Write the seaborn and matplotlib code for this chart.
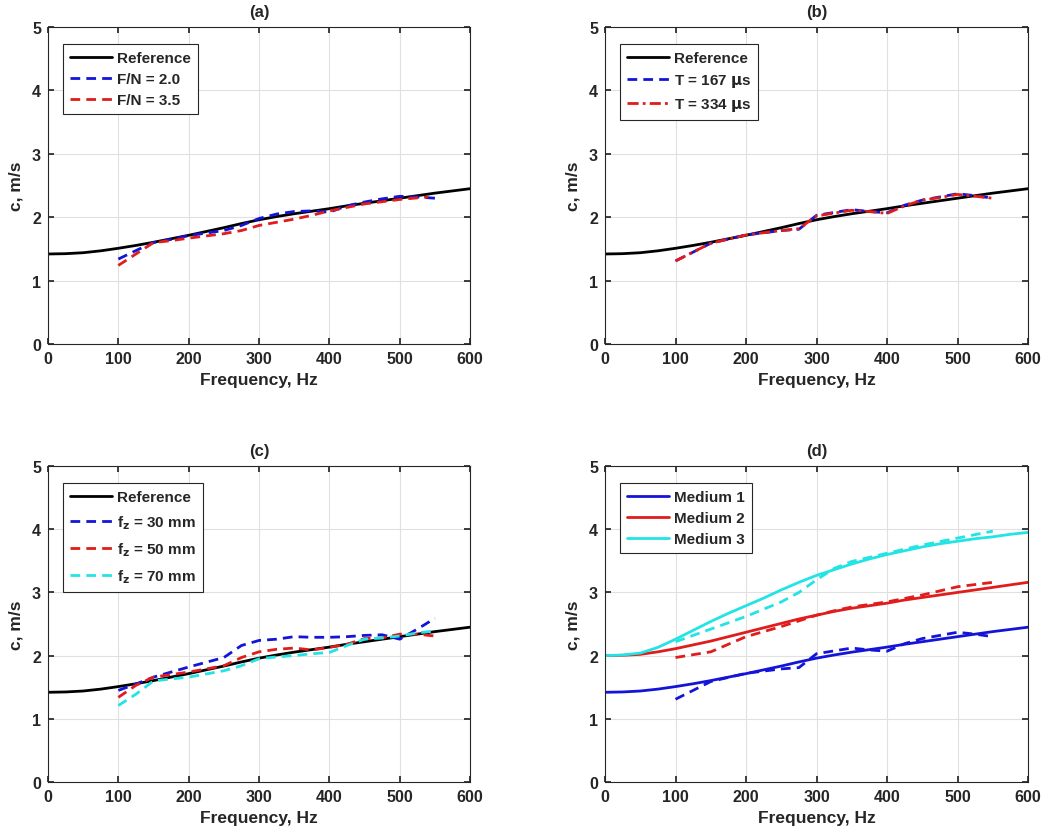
import numpy as np
import pandas as pd
import matplotlib
matplotlib.use("Agg")
import matplotlib.pyplot as plt
import seaborn as sns

# ---- data ----
freq_ref = [0, 25, 50, 75, 100, 125, 150, 175, 200, 225, 250, 275, 300, 325, 350, 375,
            400, 425, 450, 475, 500, 525, 550, 575, 600]
c_ref = [1.42, 1.425, 1.44, 1.47, 1.51, 1.555, 1.605, 1.66, 1.715, 1.775, 1.835, 1.90,
         1.96, 2.01, 2.055, 2.095, 2.135, 2.18, 2.22, 2.26, 2.30, 2.34, 2.38, 2.415, 2.45]

# panel (a)
freq_a_blue = [100, 130, 150, 175, 200, 250, 275, 300, 325, 350, 375, 400, 425, 450, 475, 500, 525, 550]
c_fn20 = [1.34, 1.50, 1.60, 1.65, 1.71, 1.79, 1.87, 1.98, 2.05, 2.09, 2.10, 2.08, 2.18, 2.24, 2.29, 2.33, 2.32, 2.30]
freq_a_red = [100, 125, 150, 175, 200, 250, 275, 300, 325, 350, 375, 400, 450, 500, 540]
c_fn35 = [1.24, 1.42, 1.60, 1.63, 1.67, 1.74, 1.79, 1.87, 1.92, 1.97, 2.03, 2.10, 2.21, 2.28, 2.32]

# panel (b)
freq_b = [100, 150, 200, 250, 275, 300, 350, 375, 400, 425, 450, 475, 500, 525, 550]
c_t167 = [1.31, 1.59, 1.72, 1.79, 1.81, 2.03, 2.12, 2.09, 2.07, 2.19, 2.27, 2.32, 2.37, 2.34, 2.30]
c_t334 = [1.31, 1.59, 1.72, 1.79, 1.82, 2.02, 2.11, 2.09, 2.06, 2.18, 2.27, 2.31, 2.36, 2.33, 2.30]

# panel (c)
freq_c = [100, 125, 150, 200, 250, 275, 300, 325, 350, 375, 400, 425, 450, 475, 500, 525, 550]
c_fz30 = [1.45, 1.55, 1.66, 1.82, 1.97, 2.16, 2.24, 2.26, 2.30, 2.29, 2.29, 2.30, 2.32, 2.33, 2.26, 2.42, 2.59]
c_fz50 = [1.34, 1.53, 1.66, 1.74, 1.84, 1.97, 2.06, 2.10, 2.12, 2.09, 2.13, 2.18, 2.27, 2.28, 2.34, 2.34, 2.31]
c_fz70 = [1.21, 1.39, 1.60, 1.66, 1.76, 1.84, 1.95, 1.98, 2.00, 2.03, 2.05, 2.16, 2.26, 2.28, 2.31, 2.36, 2.39]

# panel (d)
c_med1 = c_ref
c_med2 = [2.00, 2.005, 2.02, 2.06, 2.11, 2.17, 2.23, 2.30, 2.37, 2.44, 2.51, 2.58,
          2.64, 2.70, 2.75, 2.79, 2.83, 2.88, 2.92, 2.96, 3.00, 3.04, 3.08, 3.12, 3.16]
c_med3 = [2.00, 2.01, 2.04, 2.13, 2.26, 2.40, 2.54, 2.67, 2.79, 2.91, 3.04, 3.16,
          3.27, 3.36, 3.45, 3.53, 3.60, 3.66, 3.72, 3.77, 3.81, 3.85, 3.88, 3.92, 3.95]
freq_d = [100, 150, 200, 250, 275, 300, 325, 350, 400, 450, 500, 550]
c_med2_exp = [1.97, 2.06, 2.30, 2.46, 2.55, 2.64, 2.71, 2.77, 2.85, 2.96, 3.09, 3.16]
c_med3_exp = [2.22, 2.42, 2.62, 2.85, 3.00, 3.20, 3.38, 3.49, 3.62, 3.75, 3.86, 3.97]

x_ticks = [0, 100, 200, 300, 400, 500, 600]
y_ticks = [0, 1, 2, 3, 4, 5]
titles = ["(a)", "(b)", "(c)", "(d)"]

# ---- style ----
sns.set_theme(style="white")
plt.rcParams['font.family'] = ['Liberation Sans', 'DejaVu Sans']
plt.rcParams['font.weight'] = 'bold'
plt.rcParams['axes.labelweight'] = 'bold'
plt.rcParams['axes.titleweight'] = 'bold'
plt.rcParams['mathtext.default'] = 'bf'

BLUE = '#1414d8'
RED = '#e01c1c'
CYAN = '#22e4e4'

fig = plt.figure(figsize=(10.5, 8.37), dpi=100)
positions = [
    [0.0457, 0.5878, 0.4020, 0.3787],
    [0.5762, 0.5878, 0.4029, 0.3787],
    [0.0457, 0.0645, 0.4020, 0.3775],
    [0.5762, 0.0645, 0.4029, 0.3775],
]
axes = [fig.add_axes(p) for p in positions]

lw = 2.0
dash = (0, (3.5, 2.2))


def line(ax, x, y, color, ls='-', label=None, lw=lw):
    sns.lineplot(x=x, y=y, ax=ax, color=color, linestyle=ls, linewidth=lw,
                 label=label, legend=False, estimator=None, sort=False)


ax = axes[0]
line(ax, freq_ref, c_ref, 'black', '-', 'Reference')
line(ax, freq_a_blue, c_fn20, BLUE, dash, 'F/N = 2.0')
line(ax, freq_a_red, c_fn35, RED, dash, 'F/N = 3.5')

ax = axes[1]
line(ax, freq_ref, c_ref, 'black', '-', 'Reference')
line(ax, freq_b, c_t167, BLUE, dash, r'T = 167 $\mu$s')
line(ax, freq_b, c_t334, RED, (0, (4, 1.5, 1, 1.5)), r'T = 334 $\mu$s')

ax = axes[2]
line(ax, freq_ref, c_ref, 'black', '-', 'Reference')
line(ax, freq_c, c_fz30, BLUE, dash, r'f$_z$ = 30 mm')
line(ax, freq_c, c_fz50, RED, dash, r'f$_z$ = 50 mm')
line(ax, freq_c, c_fz70, CYAN, dash, r'f$_z$ = 70 mm')

ax = axes[3]
line(ax, freq_ref, c_med1, BLUE, '-', 'Medium 1')
line(ax, freq_ref, c_med2, RED, '-', 'Medium 2')
line(ax, freq_ref, c_med3, CYAN, '-', 'Medium 3')
line(ax, freq_b, c_t167, BLUE, dash)
line(ax, freq_d, c_med2_exp, RED, dash)
line(ax, freq_d, c_med3_exp, CYAN, dash)

for i, (ax, t) in enumerate(zip(axes, titles)):
    ax.set_xlim(0, 600)
    ax.set_ylim(0, 5)
    ax.set_xticks(x_ticks)
    ax.set_yticks(y_ticks)
    ax.grid(True, color='#e0e0e0', linewidth=0.8)
    ax.set_axisbelow(True)
    for s in ax.spines.values():
        s.set_color('#262626')
        s.set_linewidth(0.8)
        s.set_visible(True)
    ax.tick_params(direction='in', length=4, labelsize=11.5, color='#262626',
                   top=True, right=True, bottom=True, left=True, pad=5)
    for lab in ax.get_xticklabels() + ax.get_yticklabels():
        lab.set_fontweight('bold')
    ax.set_xlabel('Frequency, Hz', fontsize=12.5, fontweight='bold', labelpad=4)
    ax.set_ylabel('c, m/s', fontsize=12.5, fontweight='bold', labelpad=6)
    ax.set_title(t, fontsize=12, fontweight='bold', pad=8)
    leg = ax.legend(loc='upper left', bbox_to_anchor=(0.035, 0.945), fontsize=11,
                    frameon=True, fancybox=False, framealpha=1, edgecolor='#262626',
                    handlelength=2.8, handletextpad=0.3, borderpad=0.45,
                    labelspacing=0.6 if i == 2 else 0.45, borderaxespad=0)
    leg.get_frame().set_linewidth(0.8)
    for txt in leg.get_texts():
        txt.set_fontweight('bold')

fig.savefig('out.png', dpi=100)
